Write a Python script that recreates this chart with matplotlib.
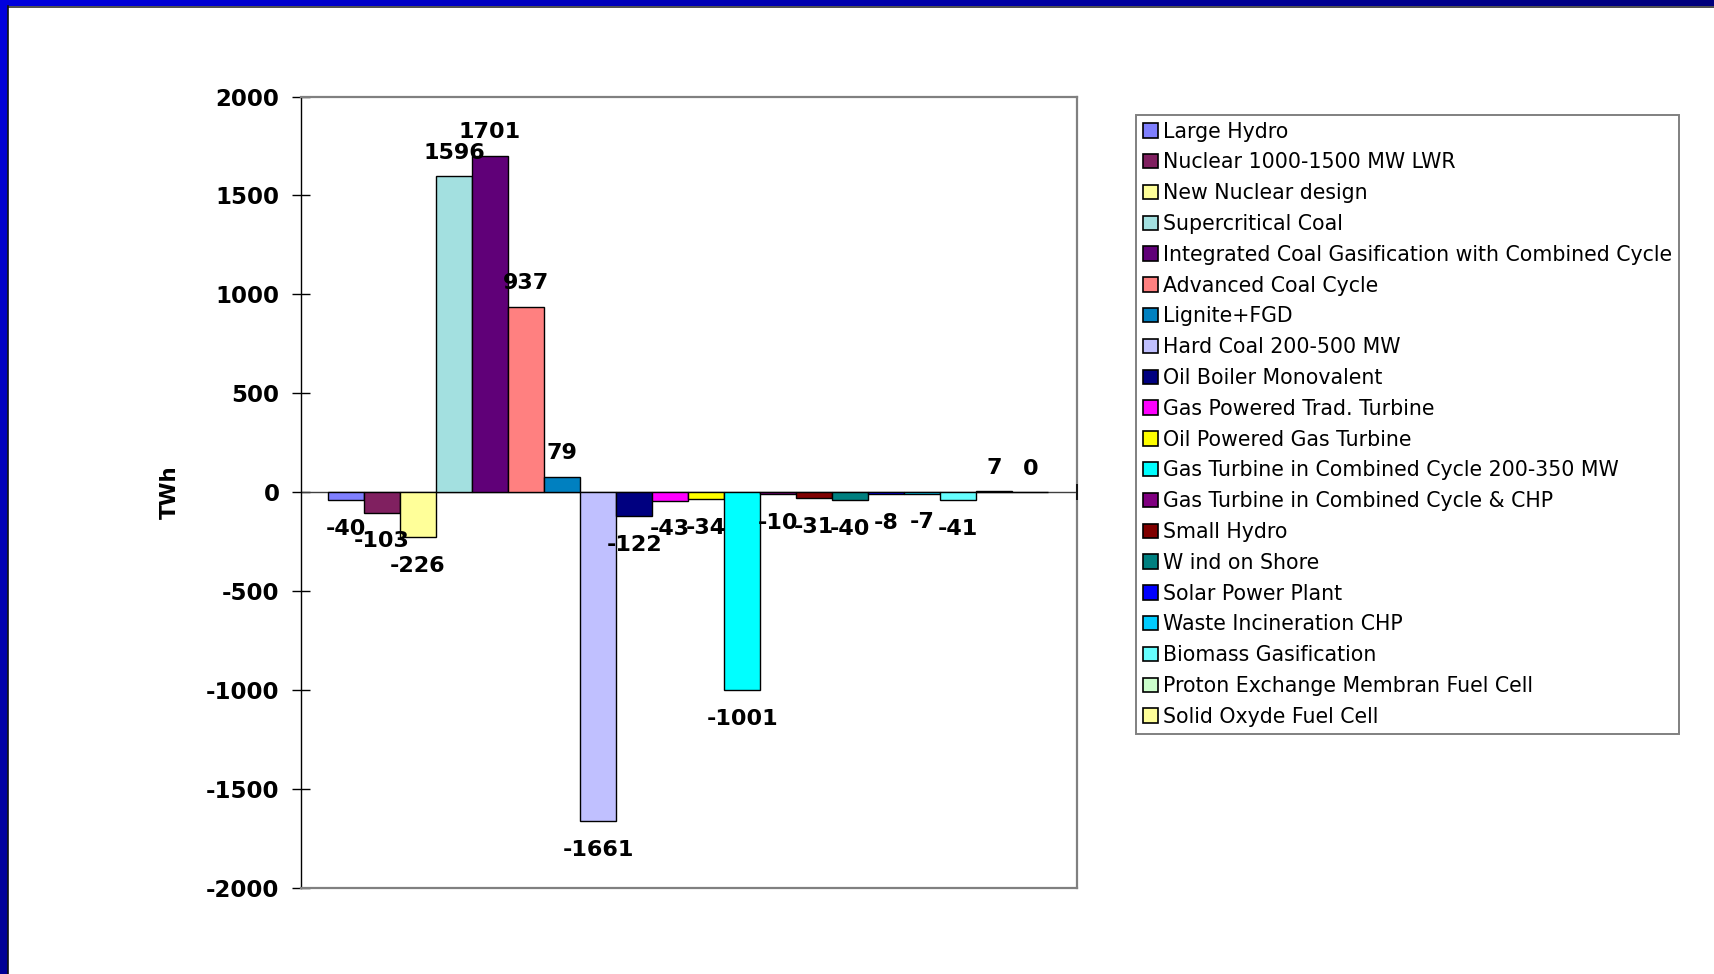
import matplotlib
matplotlib.use("Agg")
import matplotlib.pyplot as plt
import numpy as np
from matplotlib.patches import Patch
from matplotlib.lines import Line2D

plt.rcParams['font.family'] = ['DejaVu Sans']
plt.rcParams['axes.unicode_minus'] = False

# change in electricity generation per technology (TWh)
technologies = [
    "Large Hydro",
    "Nuclear 1000-1500 MW LWR",
    "New Nuclear design",
    "Supercritical Coal",
    "Integrated Coal Gasification with Combined Cycle",
    "Advanced Coal Cycle",
    "Lignite+FGD",
    "Hard Coal 200-500 MW",
    "Oil Boiler Monovalent",
    "Gas Powered Trad. Turbine",
    "Oil Powered Gas Turbine",
    "Gas Turbine in Combined Cycle 200-350 MW",
    "Gas Turbine in Combined Cycle & CHP",
    "Small Hydro",
    "W ind on Shore",
    "Solar Power Plant",
    "Waste Incineration CHP",
    "Biomass Gasification",
    "Proton Exchange Membran Fuel Cell",
    "Solid Oxyde Fuel Cell",
]
twh = [-40, -103, -226, 1596, 1701, 937, 79, -1661, -122, -43,
       -34, -1001, -10, -31, -40, -8, -7, -41, 7, 0]
colors = ["#8080FF", "#802060", "#FFFF99", "#A3E0E0", "#600078",
          "#FF8080", "#0080C0", "#C0C0FF", "#000080", "#FF00FF",
          "#FFFF00", "#00FFFF", "#800080", "#800000", "#008080",
          "#0000FF", "#00CCFF", "#66FFFF", "#CCFFCC", "#FFFF99"]

W, H = 1715, 974
fig = plt.figure(figsize=(W / 100, H / 100), dpi=100)
fig.patch.set_facecolor("white")

# blue slide frame along the top and left edges
top = fig.add_axes([0, 1 - 6 / H, 1, 6 / H])
top.imshow(np.linspace(0, 1, 256)[None, :], aspect="auto",
           cmap=matplotlib.colors.LinearSegmentedColormap.from_list("t", ["#0000DD", "#00007C"]))
top.axis("off")
left = fig.add_axes([0, 0, 8 / W, 1 - 6 / H])
left.imshow(np.linspace(0, 1, 256)[:, None], aspect="auto",
            cmap=matplotlib.colors.LinearSegmentedColormap.from_list("l", ["#0000DD", "#000095"]))
left.axis("off")
fig.add_artist(Line2D([8 / W, 1], [1 - 6.5 / H, 1 - 6.5 / H], color="#303030", lw=1.2))
fig.add_artist(Line2D([8.5 / W, 8.5 / W], [0, 1 - 6 / H], color="#101010", lw=1.2))

ax = fig.add_axes([301 / W, (H - 888) / H, 776 / W, 791.5 / H])
x = np.arange(len(twh))
ax.bar(x, twh, width=1.0, color=colors, edgecolor="black", linewidth=1.0, zorder=3)
ax.axhline(0, color="#404040", lw=1.0, zorder=2)

ax.set_xlim(-1.25, 20.3)
ax.set_ylim(-2000, 2000)
ax.set_yticks(np.arange(-2000, 2001, 500))
ax.set_xticks([])
ax.tick_params(axis="y", direction="inout", length=13, width=1.0, pad=9,
               labelsize=16.5, colors="black")
for lbl in ax.get_yticklabels():
    lbl.set_fontweight("bold")
ax.plot([ax.get_xlim()[1]], [0], marker="|", ms=11.5, mew=1.2, color="black",
        clip_on=False, zorder=4)

for side in ["top", "right", "bottom"]:
    ax.spines[side].set_color("#808080")
    ax.spines[side].set_linewidth(1.6)
ax.spines["left"].set_color("black")
ax.spines["left"].set_linewidth(1.0)

ax.set_ylabel("TWh", fontsize=15.5, fontweight="bold")
ax.yaxis.set_label_coords(-0.156, 0.5)

for xi, v in zip(x, twh):
    off = 12.5 if v >= 0 else -25
    ax.annotate(f"{v}", (xi, v), xytext=(0, off), textcoords="offset points",
                ha="center", va="baseline", fontsize=16, fontweight="bold",
                zorder=5)

handles = [Patch(facecolor=c, edgecolor="black", linewidth=1.2) for c in colors]
fig.legend(handles, technologies, loc="upper left",
           bbox_to_anchor=(1136 / W, 1 - 114.5 / H), borderaxespad=0,
           fontsize=14.8, frameon=True, fancybox=False, edgecolor="#808080",
           framealpha=1, handlelength=0.7, handleheight=0.7,
           handletextpad=0.25, labelspacing=0.525, borderpad=0.35)
fig.legends[0].get_frame().set_linewidth(1.4)

fig.savefig("out.png", dpi=100)
